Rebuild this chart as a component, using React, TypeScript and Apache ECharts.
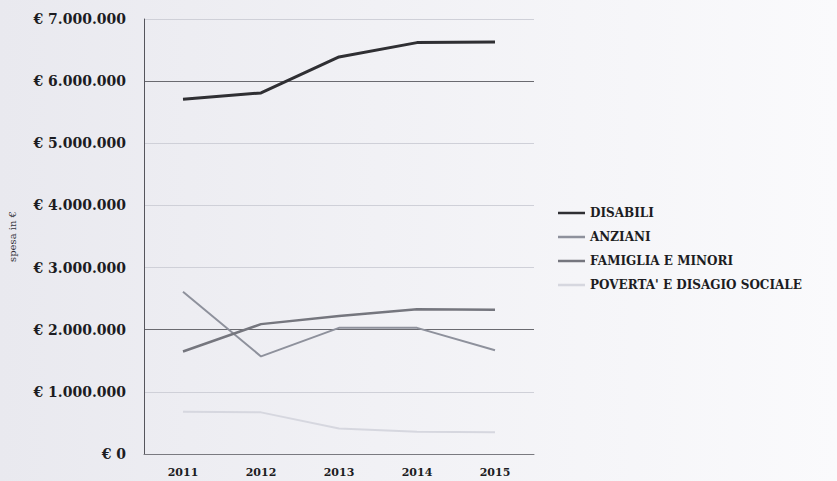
import React, { useEffect, useRef } from "react";
import * as echarts from "echarts";

const years = ["2011", "2012", "2013", "2014", "2015"];
const disabili = [5710000, 5810000, 6390000, 6620000, 6630000];
const anziani = [2610000, 1570000, 2030000, 2030000, 1670000];
const famiglia = [1650000, 2090000, 2220000, 2330000, 2320000];
const poverta = [680000, 670000, 410000, 360000, 350000];

const formatEuro = (v: number) => {
  if (v === 0) return "€ 0";
  const s = Math.round(v).toString().replace(/\B(?=(\d{3})+(?!\d))/g, ".");
  return "€ " + s;
};

export default function App() {
  const ref = useRef<HTMLDivElement>(null);
  useEffect(() => {
    if (!ref.current) return;
    const chart = echarts.init(ref.current, undefined, { renderer: "svg" });
    const font = "'DejaVu Serif', 'Liberation Serif', serif";
    chart.setOption({
      animation: false,
      backgroundColor: "transparent",
      grid: { left: 144, right: 303, top: 19, bottom: 27, containLabel: false },
      legend: {
        orient: "vertical",
        left: 553,
        top: 202,
        itemWidth: 27,
        itemHeight: 14,
        itemGap: 12,
        icon: "path://M0,0L27,0L27,2.5L0,2.5Z",
        textStyle: { fontFamily: font, fontWeight: "bold", fontSize: 12, color: "#1c1c22" },
        data: ["DISABILI", "ANZIANI", "FAMIGLIA E MINORI", "POVERTA' E DISAGIO SOCIALE"],
      },
      xAxis: {
        type: "category",
        data: years,
        boundaryGap: true,
        axisLine: { lineStyle: { color: "#7a7a80", width: 1 } },
        axisTick: { show: false },
        axisLabel: { fontFamily: font, fontWeight: "bold", fontSize: 11, color: "#1c1c22", margin: 13 },
      },
      yAxis: {
        type: "value",
        min: 0,
        max: 7000000,
        interval: 1000000,
        name: "spesa in €",
        nameLocation: "middle",
        nameGap: 127,
        nameTextStyle: { fontFamily: font, fontSize: 10, color: "#33333a" },
        axisLine: { show: true, lineStyle: { color: "#55555c", width: 1 } },
        axisTick: { show: false },
        axisLabel: {
          fontFamily: font,
          fontWeight: "bold",
          fontSize: 14,
          color: "#1c1c22",
          margin: 18,
          formatter: (v: number) => formatEuro(v),
        },
        splitLine: {
          show: true,
          lineStyle: { color: ["#cfd0d8", "#cfd0d8", "#6a6a70", "#cfd0d8"], width: 1 },
        },
      },
      series: [
        {
          name: "DISABILI",
          type: "line",
          data: disabili,
          symbol: "none",
          lineStyle: { color: "#2f2f33", width: 3 },
          itemStyle: { color: "#2f2f33" },
        },
        {
          name: "ANZIANI",
          type: "line",
          data: anziani,
          symbol: "none",
          lineStyle: { color: "#8e919c", width: 2 },
          itemStyle: { color: "#8e919c" },
        },
        {
          name: "FAMIGLIA E MINORI",
          type: "line",
          data: famiglia,
          symbol: "none",
          lineStyle: { color: "#75767e", width: 2.5 },
          itemStyle: { color: "#75767e" },
        },
        {
          name: "POVERTA' E DISAGIO SOCIALE",
          type: "line",
          data: poverta,
          symbol: "none",
          lineStyle: { color: "#d6d7df", width: 2 },
          itemStyle: { color: "#d6d7df" },
        },
      ],
    });
    return () => chart.dispose();
  }, []);
  return (
    <div
      ref={ref}
      style={{
        position: "fixed",
        left: 0,
        top: 0,
        width: 837,
        height: 481,
        background: "linear-gradient(90deg, #e9e9ef 0%, #f1f1f5 45%, #fafafc 100%)",
      }}
    />
  );
}
